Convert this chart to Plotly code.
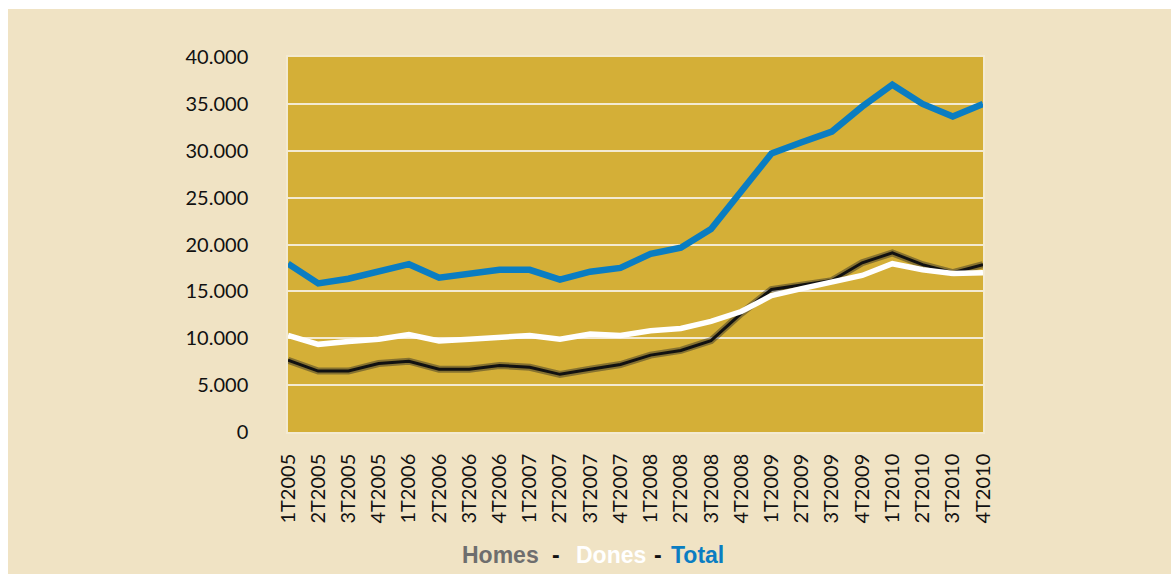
import plotly.graph_objects as go

categories = ["1T2005", "2T2005", "3T2005", "4T2005",
              "1T2006", "2T2006", "3T2006", "4T2006",
              "1T2007", "2T2007", "3T2007", "4T2007",
              "1T2008", "2T2008", "3T2008", "4T2008",
              "1T2009", "2T2009", "3T2009", "4T2009",
              "1T2010", "2T2010", "3T2010", "4T2010"]

homes = [7650, 6500, 6500, 7300, 7550, 6700, 6700, 7100, 6900, 6150, 6700, 7200,
         8200, 8700, 9750, 12650, 15200, 15700, 16150, 18050, 19100, 17850, 17000, 17850]
dones = [10300, 9350, 9650, 9900, 10400, 9700, 9900, 10100, 10300, 9900, 10450, 10300,
         10800, 11050, 11800, 12850, 14550, 15300, 16050, 16700, 17950, 17300, 16900, 17000]
total = [17950, 15850, 16350, 17100, 17900, 16450, 16900, 17300, 17300, 16250, 17100, 17500,
         19000, 19650, 21650, 25700, 29700, 30900, 32050, 34700, 37050, 35000, 33650, 35000]

y_tickvals = [0, 5000, 10000, 15000, 20000, 25000, 30000, 35000, 40000]
y_ticktext = ["0", "5.000", "10.000", "15.000", "20.000", "25.000", "30.000", "35.000", "40.000"]

W, H = 1171, 574
L, R, T, B = 288, 1171 - 983, 57, 574 - 432
BEIGE = "#F0E3C4"
GOLD = "#D4AF37"
GRID = "#F3EAD2"

x_idx = list(range(len(categories)))

fig = go.Figure()
fig.add_trace(go.Scatter(x=x_idx, y=homes, mode="lines",
                         line=dict(color="rgba(40,40,40,0.45)", width=7), hoverinfo="skip",
                         showlegend=False))
fig.add_trace(go.Scatter(x=x_idx, y=homes, mode="lines", name="Homes",
                         line=dict(color="#111111", width=3), showlegend=False))
fig.add_trace(go.Scatter(x=x_idx, y=dones, mode="lines", name="Dones",
                         line=dict(color="#FFFFFF", width=5.5), showlegend=False))
fig.add_trace(go.Scatter(x=x_idx, y=total, mode="lines", name="Total",
                         line=dict(color="#0A7DC2", width=6.5), showlegend=False))


def px_x(p):
    return (p - L) / (W - L - R)


def px_y(p):
    return (H - B - p) / (H - T - B)


shapes = [
    dict(type="rect", xref="paper", yref="paper", layer="above",
         x0=px_x(-5), x1=px_x(W + 5), y0=px_y(-5), y1=px_y(9),
         fillcolor="#FFFFFF", line=dict(width=0)),
    dict(type="rect", xref="paper", yref="paper", layer="above",
         x0=px_x(-5), x1=px_x(8), y0=px_y(-5), y1=px_y(H + 5),
         fillcolor="#FFFFFF", line=dict(width=0)),
]

legend_parts = [
    ("Homes", "#6E6E6E", 500),
    ("-", "#111111", 556),
    ("Dones", "#FFFFFF", 611),
    ("-", "#111111", 658),
    ("Total", "#0A7DC2", 697),
]
annotations = []
for txt, col, cx in legend_parts:
    annotations.append(dict(text=f"<b>{txt}</b>", x=px_x(cx), y=px_y(555), xref="paper", yref="paper",
                            showarrow=False, xanchor="center", yanchor="middle",
                            font=dict(family="Liberation Sans, Arial", size=23, color=col)))

fig.update_layout(
    width=W, height=H,
    margin=dict(l=L, r=R, t=T, b=B, pad=0),
    paper_bgcolor=BEIGE,
    plot_bgcolor=GOLD,
    shapes=shapes,
    annotations=annotations,
    showlegend=False,
    xaxis=dict(
        range=[0, len(categories) - 1],
        tickmode="array", tickvals=x_idx, ticktext=categories,
        tickangle=-90, showgrid=False, zeroline=False,
        tickfont=dict(family="Lato, Open Sans", size=20, color="#111111"),
        ticks="", ticklabelstandoff=12,
        showline=True, linecolor=GRID, linewidth=1.5, mirror=True,
    ),
    yaxis=dict(
        range=[0, 40000],
        tickmode="array", tickvals=y_tickvals, ticktext=y_ticktext,
        showgrid=True, gridcolor=GRID, gridwidth=1.5, zeroline=False,
        tickfont=dict(family="Lato, Open Sans", size=20, color="#111111"),
        ticks="", ticklabelstandoff=34,
        showline=True, linecolor=GRID, linewidth=1.5, mirror=True,
    ),
)

fig.write_html("out.html", config={"displayModeBar": False},
               post_script="document.body.style.margin='0';")
